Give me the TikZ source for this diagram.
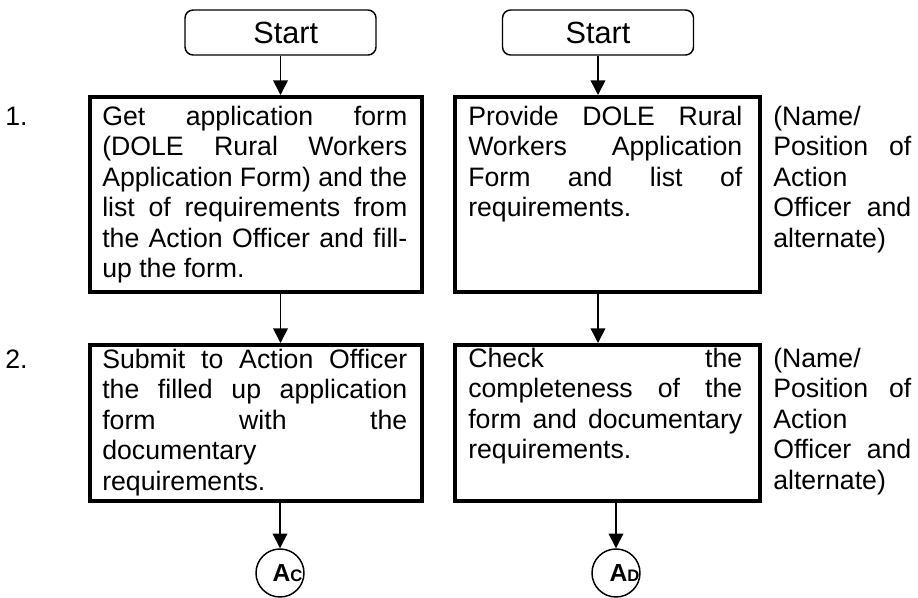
\documentclass[tikz,border=0pt]{standalone}
\usepackage{fontspec}
\setmainfont{Liberation Sans}[Ligatures=NoCommon]
\usetikzlibrary{arrows.meta,calc}
\begin{document}
\begin{tikzpicture}[x=0.75pt,y=-0.75pt,
  stepbox/.style={draw, line width=3pt, rectangle, anchor=north west, inner sep=0pt},
  startbox/.style={draw, line width=1.1pt, rounded corners=6pt, minimum width=143.25pt, minimum height=33.75pt, inner sep=0pt, font=\fontsize{23pt}{26pt}\selectfont},
  conn/.style={draw, circle, line width=1.1pt, minimum size=36pt, inner sep=0pt},
  arr/.style={line width=1.2pt, -{Triangle[width=11pt,length=11pt]}},
  txt/.style={anchor=base west, inner sep=0pt, font=\fontsize{20pt}{22.9pt}\selectfont},
  clab/.style={anchor=base, inner sep=0pt}
]
\useasboundingbox (0,0) rectangle (918,597);

% start boxes
\node[startbox] (s1) at (280.5,32.5) {\hspace*{8pt}Start};
\node[startbox] (s2) at (598,32.5) {Start};

% step boxes
\node[stepbox, minimum width=249pt, minimum height=146.25pt] (b1) at (88,95) {};
\node[stepbox, minimum width=228.75pt, minimum height=146.25pt] (b2) at (453,95) {};
\node[stepbox, minimum width=249pt, minimum height=117pt] (b3) at (88,343) {};
\node[stepbox, minimum width=228.75pt, minimum height=117pt] (b4) at (453,343) {};

% connector circles
\node[conn] (c1) at (280,573) {};
\node[conn] (c2) at (616,573) {};
\node[clab] (c1t) at (287.5,581) {\fontsize{18.5pt}{20pt}\selectfont\bfseries A\fontsize{12.5pt}{14pt}\selectfont C};
\node[clab] (c2t) at (624.5,581) {\fontsize{18.5pt}{20pt}\selectfont\bfseries A\fontsize{12.5pt}{14pt}\selectfont D};

% texts
\node[txt] (n1) at (5,125) {1.};
\node[txt] (n2) at (5,368) {2.};

\node[txt] (t1) at (102,125) {\parbox[t]{228.75pt}{\hyphenpenalty=10000\tolerance=10000\hbadness=10000
Get application form\linebreak (DOLE Rural Workers\linebreak Application Form) and the\linebreak list of requirements from\linebreak the Action Officer and fill-\linebreak up the form.}};

\node[txt] (t2) at (468,125) {\parbox[t]{205.5pt}{\hyphenpenalty=10000\tolerance=10000\hbadness=10000
Provide DOLE Rural\linebreak Workers Application\linebreak Form and list of\linebreak requirements.}};

\node[txt] (t3) at (102,368) {\parbox[t]{228.75pt}{\hyphenpenalty=10000\tolerance=10000\hbadness=10000
Submit to Action Officer\linebreak the filled up application\linebreak form with the\linebreak documentary\newline requirements.}};

\node[txt] (t4) at (468,367) {\parbox[t]{205.5pt}{\hyphenpenalty=10000\tolerance=10000\hbadness=10000
Check the\linebreak completeness of the\linebreak form and documentary\linebreak requirements.}};

\node[txt] (r1) at (773,125) {\parbox[t]{103.5pt}{\hyphenpenalty=10000\tolerance=10000\hbadness=10000
(Name/\newline Position of\linebreak Action\newline Officer and\linebreak alternate)}};

\node[txt] (r2) at (773,367) {\parbox[t]{103.5pt}{\hyphenpenalty=10000\tolerance=10000\hbadness=10000
(Name/\newline Position of\linebreak Action\newline Officer and\linebreak alternate)}};

% arrows
\draw[arr] (s1.south) -- (b1.north -| s1);
\draw[arr] (b1.south -| s1) -- (b3.north -| s1);
\draw[arr] (b3.south -| c1) -- (c1.north);
\draw[arr] (s2.south) -- (b2.north -| s2);
\draw[arr] (b2.south -| s2) -- (b4.north -| s2);
\draw[arr] (b4.south -| c2) -- (c2.north);
\end{tikzpicture}
\end{document}
